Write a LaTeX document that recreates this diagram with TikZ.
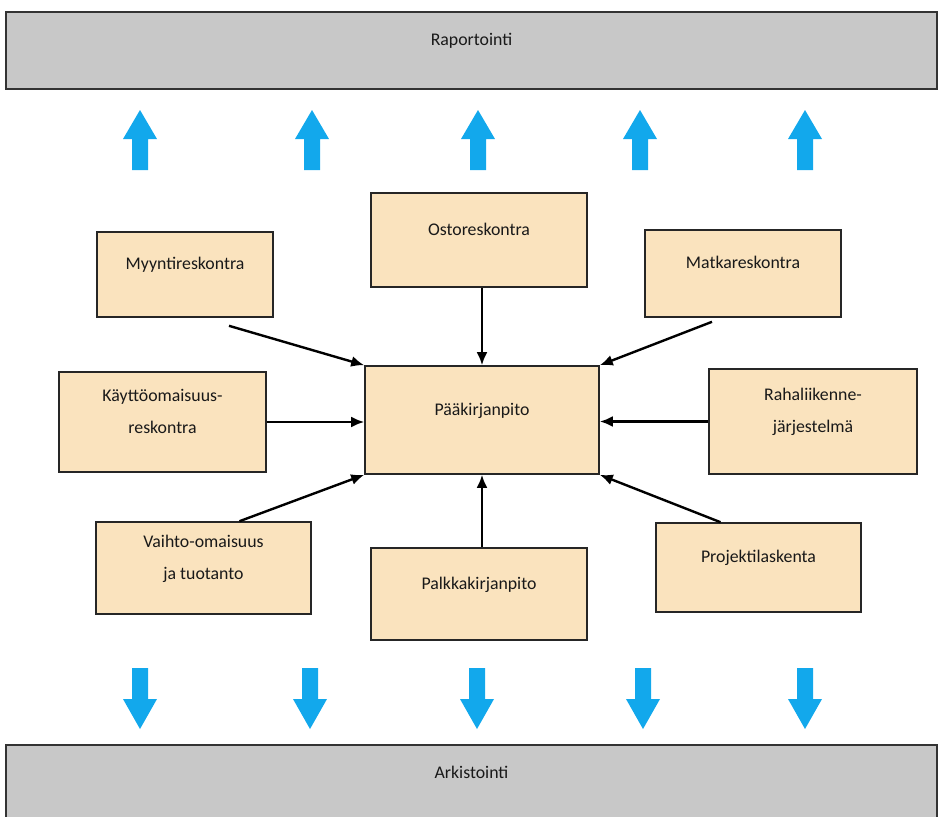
\documentclass[tikz,border=0pt]{standalone}
\usepackage{fontspec}
\setmainfont{Carlito}
\usetikzlibrary{arrows.meta,calc}
\definecolor{baari}{HTML}{C8C8C8}
\definecolor{laatikko}{HTML}{FAE3BE}
\definecolor{sininen}{HTML}{12A8EC}
\begin{document}
\begin{tikzpicture}[x=0.5pt,y=-0.5pt,
  font=\fontsize{8.9}{16}\selectfont,
  box/.style={draw=black!85,line width=0.8pt,fill=laatikko,align=center,
    text=black!90,text depth=1.1em,inner sep=0pt},
  bar/.style={draw=black!80,line width=0.8pt,fill=baari,text=black!90,
    minimum width=465.5pt,minimum height=38.5pt,text depth=1.1em,inner sep=0pt},
  yhteys/.style={-{Latex[length=6.5pt,width=5.5pt]},line width=1.2pt,black}]
\useasboundingbox (0,0) rectangle (941,816);
\clip (0,0) rectangle (941,816);
% Raportointi ja arkistointi
\node[bar] (raportointi) at (471.5,50.5) {Raportointi};
\node[bar] (arkistointi) at (471.5,783.5) {Arkistointi};

% Siniset nuolet
\foreach \x in {140,312,478,640,805} {
  \fill[sininen] (\x-8,170) -- (\x-8,139) -- (\x-17,139) -- (\x,110)
    -- (\x+17,139) -- (\x+8,139) -- (\x+8,170) -- cycle;
}
\foreach \x in {140,310,477,643,805} {
  \fill[sininen] (\x-8,668) -- (\x-8,699) -- (\x-17,699) -- (\x,729)
    -- (\x+17,699) -- (\x+8,699) -- (\x+8,668) -- cycle;
}

% Laatikot
\node[box,minimum width=117pt,minimum height=54pt] (paa) at (482,420) {Pääkirjanpito};
\node[box,minimum width=88pt,minimum height=42.5pt] (myynti) at (185,274.5) {Myyntireskontra};
\node[box,minimum width=108pt,minimum height=47pt] (osto) at (479,240) {Ostoreskontra};
\node[box,minimum width=98pt,minimum height=43.5pt] (matka) at (743,273.5) {Matkareskontra};
\node[box,minimum width=103.5pt,minimum height=50pt] (kaytto) at (162.5,422) {Käyttöomaisuus-\\reskontra};
\node[box,minimum width=104pt,minimum height=52.5pt] (raha) at (813,421.5) {Rahaliikenne-\\järjestelmä};
\node[box,minimum width=107.5pt,minimum height=46pt] (vaihto) at (203.5,568) {Vaihto-omaisuus\\ja tuotanto};
\node[box,minimum width=108pt,minimum height=46pt] (palkka) at (479,594) {Palkkakirjanpito};
\node[box,minimum width=102.5pt,minimum height=44.5pt] (projekti) at (758.5,567.5) {Projektilaskenta};

% Yhteydet pääkirjanpitoon
\draw[yhteys] ([xshift=22pt,yshift=-4pt]myynti.south) -- (paa.north west);
\draw[yhteys] (osto.south -| paa.north) -- (paa.north);
\draw[yhteys] ([xshift=-15.5pt,yshift=-2pt]matka.south) -- (paa.north east);
\draw[yhteys] (kaytto.east) -- (kaytto.east -| paa.west);
\draw[yhteys] (raha.west) -- (raha.west -| paa.east);
\draw[yhteys] ([xshift=18pt]vaihto.north) -- (paa.south west);
\draw[yhteys] (palkka.north -| paa.south) -- (paa.south);
\draw[yhteys] ([xshift=-19pt]projekti.north) -- (paa.south east);
\end{tikzpicture}
\end{document}
